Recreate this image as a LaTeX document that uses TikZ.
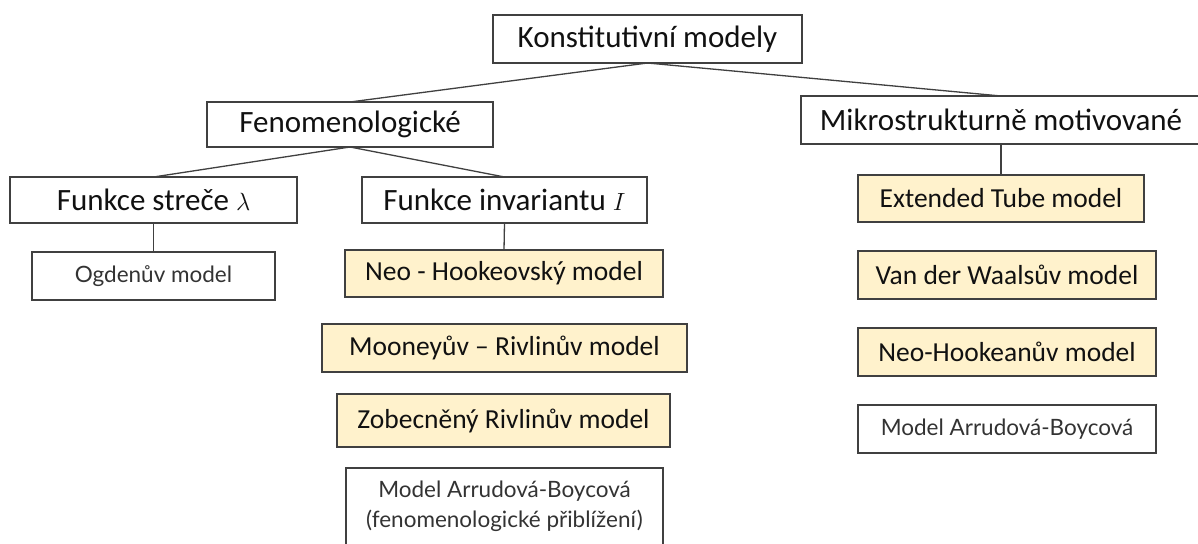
\documentclass[tikz,border=0pt]{standalone}
\usepackage{fontspec}
\setmainfont{Carlito}
\newfontfamily\latofont{Lato}
\definecolor{boxline}{HTML}{404040}
\definecolor{boxfill}{HTML}{FFF2CC}
\definecolor{txt}{HTML}{111111}
\begin{document}
\begin{tikzpicture}[x=1pt,y=-1pt,
  base/.style={draw=boxline,line width=1.3pt,inner sep=0pt,outer sep=0pt,text=txt,align=center},
  bigbox/.style={base,fill=white,font=\fontsize{31}{36}\selectfont},
  yelbox/.style={base,fill=boxfill,font=\fontsize{27.5}{32}\selectfont},
  whtbox/.style={base,fill=white,text=black!80,font=\latofont\fontsize{22.5}{30}\selectfont},
  conn/.style={draw=boxline,line width=1.3pt}]
\useasboundingbox (0,0) rectangle (1198,543);
\fill[white] (0,0) rectangle (1198,543);
% top levels
\node[bigbox,minimum width=309pt,minimum height=48pt] (konst) at (647.5,39) {Konstitutivní modely};
\node[bigbox,minimum width=286pt,minimum height=45pt] (fenom) at (350,124.5) {Fenomenologické};
\node[bigbox,minimum width=400pt,minimum height=48pt] (mikro) at (1001,120) {Mikrostrukturně motivované};
\node[bigbox,minimum width=287pt,minimum height=46pt] (strec) at (153.5,200) {Funkce streče $\lambda$};
\node[bigbox,minimum width=285pt,minimum height=46pt] (invar) at (504.5,200) {Funkce invariantu $I$};
% left branch
\node[whtbox,minimum width=243pt,minimum height=48pt] (ogden) at (153.5,276) {Ogdenův model};
% middle branch
\node[yelbox,minimum width=318pt,minimum height=47pt] (neo) at (504,273.5) {Neo - Hookeovský model};
\node[yelbox,minimum width=365pt,minimum height=48pt] (mooney) at (504.5,348) {Mooneyův – Rivlinův model};
\node[yelbox,minimum width=333pt,minimum height=53pt] (zob) at (503.5,420.5) {Zobecněný Rivlinův model};
\node[whtbox,minimum width=317pt,minimum height=77pt] (arr1) at (504.5,506.5) {Model Arrudová-Boycová\\(fenomenologické přiblížení)};
% right branch
\node[yelbox,minimum width=286pt,minimum height=47pt] (ext) at (1001,198.5) {Extended Tube model};
\node[yelbox,minimum width=298pt,minimum height=48pt] (vdw) at (1007,275) {Van der Waalsův model};
\node[yelbox,minimum width=298pt,minimum height=48pt] (neoh) at (1007,352) {Neo-Hookeanův model};
\node[whtbox,minimum width=298pt,minimum height=48pt] (arr2) at (1007,429) {Model Arrudová-Boycová};
% connectors
\draw[conn] (konst.south) -- (fenom.north);
\draw[conn] (konst.south) -- (mikro.north);
\draw[conn] (fenom.south) -- (strec.north);
\draw[conn] (fenom.south) -- (invar.north);
\draw[conn] (strec.south) -- (ogden.north);
\draw[conn] (invar.south) -- (neo.north);
\draw[conn] (mikro.south) -- (ext.north);
\end{tikzpicture}
\end{document}
